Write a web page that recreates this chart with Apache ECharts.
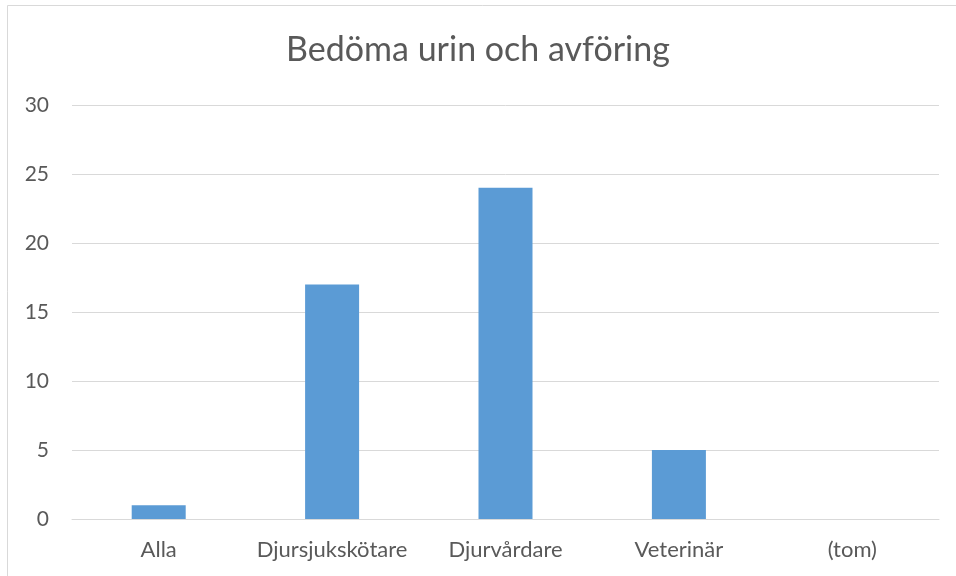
<!DOCTYPE html>
<html>
<head>
<meta charset="utf-8">
<script src="https://cdn.jsdelivr.net/npm/echarts@6/dist/echarts.min.js"></script>
<style>
html,body{margin:0;padding:0;background:#fff;}
#chart{width:956px;height:576px;}
</style>
</head>
<body>
<div id="chart"></div>
<script>
const titleText = "Bedöma urin och avföring";
const categories = ["Alla", "Djursjukskötare", "Djurvårdare", "Veterinär", "(tom)"];
const values = [1, 17, 24, 5, 0];
const yTicks = { min: 0, max: 30, interval: 5 };

const chart = echarts.init(document.getElementById('chart'), null, {renderer: 'canvas'});
const FONT = 'Lato';
chart.setOption({
  animation: false,
  backgroundColor: '#fff',
  graphic: [{
    type: 'rect',
    shape: { x: 7.5, y: 5.5, width: 960, height: 600 },
    style: { fill: 'none', stroke: '#d9d9d9', lineWidth: 1 },
    silent: true
  }],
  title: {
    text: titleText,
    left: 'center',
    top: 28,
    textStyle: { fontFamily: FONT, fontSize: 34, fontWeight: 'normal', color: '#595959' }
  },
  grid: { left: 72, right: 17, top: 105, bottom: 57, containLabel: false },
  xAxis: {
    type: 'category',
    data: categories,
    axisLine: { show: true, lineStyle: { color: '#d9d9d9', width: 1 } },
    axisTick: { show: false },
    axisLabel: { fontFamily: FONT, fontSize: 22, color: '#595959', margin: 20, interval: 0, hideOverlap: false }
  },
  yAxis: {
    type: 'value',
    min: yTicks.min, max: yTicks.max, interval: yTicks.interval,
    axisLine: { show: false },
    axisTick: { show: false },
    splitLine: { lineStyle: { color: '#d9d9d9', width: 1 } },
    axisLabel: { fontFamily: FONT, fontSize: 21, color: '#595959', margin: 23 }
  },
  series: [{
    type: 'bar',
    data: values,
    barWidth: 54,
    itemStyle: { color: '#5b9bd5' }
  }]
});
</script>
</body>
</html>
